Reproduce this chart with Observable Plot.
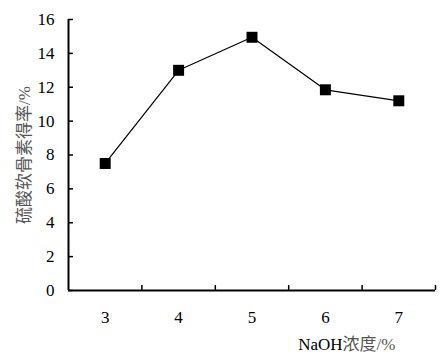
<!DOCTYPE html>
<html><head><meta charset="utf-8">
<script src="https://cdn.jsdelivr.net/npm/d3@7"></script>
<script src="https://cdn.jsdelivr.net/npm/@observablehq/plot@0.6"></script>
<style>
body{margin:0;background:#fff}
svg text{font-family:"Liberation Serif","DejaVu Serif","Noto Sans CJK SC",serif !important;}
</style>
</head><body><div id="chart"></div>
<script>
const concentrations = [3, 4, 5, 6, 7];
const yields = [7.5, 13.0, 14.95, 11.85, 11.2];
const yTicks = [0, 2, 4, 6, 8, 10, 12, 14, 16];
const xBoundaries = [3.5, 4.5, 5.5, 6.5, 7.5];
const xLabel = "NaOH浓度/%";
const yLabel = "硫酸软骨素得率/%";

const data = concentrations.map((c, i) => ({c, v: yields[i]}));
const font = "'Liberation Serif', 'DejaVu Serif', 'Noto Sans CJK SC', serif";

const chart = Plot.plot({
  width: 445, height: 360,
  marginLeft: 68, marginRight: 10, marginTop: 19, marginBottom: 70,
  style: {fontFamily: font, fontSize: "17px", color: "#000", background: "#fff"},
  x: {type: "linear", domain: [2.5, 7.5]},
  y: {domain: [0, 16]},
  marks: [
    Plot.axisY(yTicks, {tickSize: 5, dx: 5, tickFormat: () => "", strokeWidth: 1.5, label: null}),
    Plot.axisY(yTicks, {tickSize: 0, tickPadding: 14, label: yLabel, labelAnchor: "center", labelArrow: "none", labelOffset: 51, fontSize: 17, fontFamily: font}),
    Plot.axisX(xBoundaries, {tickSize: 5, dy: -5, tickFormat: () => "", strokeWidth: 1.5, label: null}),
    Plot.axisX(concentrations, {tickSize: 0, tickPadding: 20, label: null, fontSize: 17, fontFamily: font}),
    Plot.text([xLabel], {frameAnchor: "bottom-right", textAnchor: "end", lineAnchor: "middle", dx: -40, dy: 54, fontSize: 17, fontFamily: font}),
    Plot.ruleX([2.5], {stroke: "#000", strokeWidth: 2}),
    Plot.ruleY([0], {stroke: "#000", strokeWidth: 2}),
    Plot.line(data, {x: "c", y: "v", stroke: "#000", strokeWidth: 1.2}),
    Plot.dot(data, {x: "c", y: "v", symbol: "square", r: 6.2, fill: "#000", stroke: "none"})
  ]
});
document.getElementById("chart").appendChild(chart);

// colour the CJK glyphs grey as in the reference
d3.select(chart).selectAll("text").each(function() {
  const t = this.textContent;
  if (t === yLabel) { this.setAttribute("fill", "#555"); }
  if (t === xLabel) {
    const el = d3.select(this);
    el.text(null);
    el.append("tspan").attr("fill", "#000").text("NaOH");
    el.append("tspan").attr("fill", "#555").text("浓度/%");
  }
});
</script>
</body></html>
